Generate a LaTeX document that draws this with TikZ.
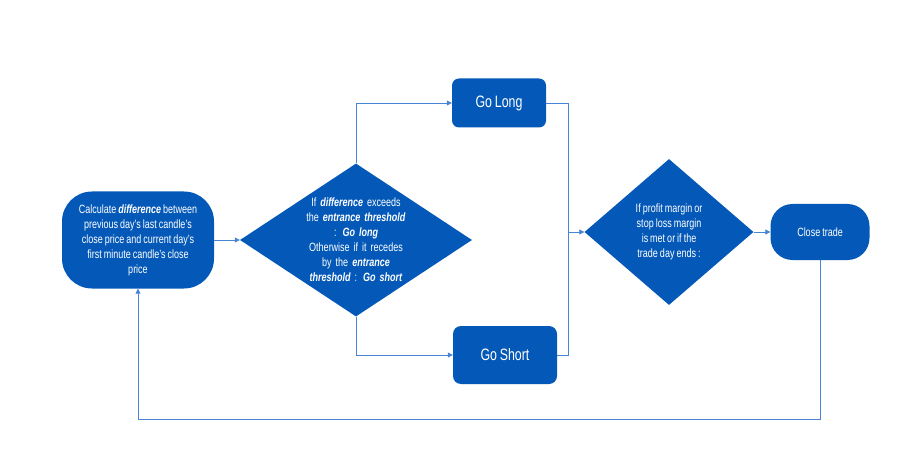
\documentclass[tikz,border=0pt]{standalone}
\usepackage{fontspec}
\setmainfont{Liberation Sans}[FakeStretch=0.75, WordSpace=0.8]
\usepackage{xcolor}
\usepackage{tikz}
\usetikzlibrary{shapes.geometric}
\usetikzlibrary{arrows.meta}

\definecolor{boxblue}{RGB}{4,89,184}
\definecolor{lineblue}{RGB}{70,132,212}

\begin{document}
\begin{tikzpicture}[x=1pt, y=-1pt]

        \useasboundingbox (0, 0) rectangle (917, 462);

        % Looks of the boxes, the decisions and the connectors
        \tikzset{
            termbox/.style={fill=boxblue, text=white, rounded corners=#1,
                align=center, inner sep=0pt,
                font=\fontsize{12}{15}\selectfont},
            decbox/.style={diamond, fill=boxblue, text=white, align=center,
                inner sep=0pt, font=\fontsize{12}{15}\selectfont},
            bigtext/.style={font=\fontsize{16.5}{18}\selectfont},
            link/.style={draw=lineblue, line width=0.8pt},
            arrowtip/.style={-{Triangle[length=5pt, width=5pt]}}
        }

        % Nodes, placed at the pixel positions of the chart
        \begin{scope}
            \node[termbox=30pt, minimum width=152pt, minimum height=97pt]
            (St) at (138, 240)
            {Calculate \textbf{\textit{difference}} between\\
             previous day's last candle's\\
             close price and current day's\\
             first minute candle's close\\
             price};
            \node[decbox, shape aspect=1.5, text width=100pt,
                minimum width=232pt, minimum height=153pt]
            (D1) at (356, 240)
            {If \textbf{\textit{difference}} exceeds\\
             the \textbf{\textit{entrance threshold}}\\
             : \textbf{\textit{Go long}}\\
             Otherwise if it recedes\\
             by the \textbf{\textit{entrance}}\\
             \textbf{\textit{threshold}} : \textbf{\textit{Go short}}};
            \node[termbox=7pt, bigtext, minimum width=94pt,
                minimum height=49pt] (GL) at (499, 103) {Go Long};
            \node[termbox=8pt, bigtext, minimum width=104pt,
                minimum height=58pt] (GS) at (505, 355) {Go Short};
            \coordinate (M) at (568, 232);
            \node[decbox, minimum width=169pt, minimum height=146pt]
            (D2) at (669, 232)
            {If profit margin or\\
             stop loss margin\\
             is met or if the\\
             trade day ends :};
            \node[termbox=22pt, minimum width=99pt, minimum height=56pt]
            (CT) at (820, 232) {Close trade};
        \end{scope}

        \begin{scope}[link]
            \draw[arrowtip] (St) -- (D1);
            \draw[arrowtip] (D1.north) |- (GL.west);
            \draw[arrowtip] (D1.south) |- (GS.west);
            \draw (GL.east) -| (M);
            \draw (GS.east) -| (M);
            \draw[arrowtip] (M) -- (D2.west);
            \draw[arrowtip] (D2) -- (CT);
            \draw[arrowtip] (CT.south) -- ++(0, 159) -| (St.south);
        \end{scope}

        \end{tikzpicture}
\end{document}
